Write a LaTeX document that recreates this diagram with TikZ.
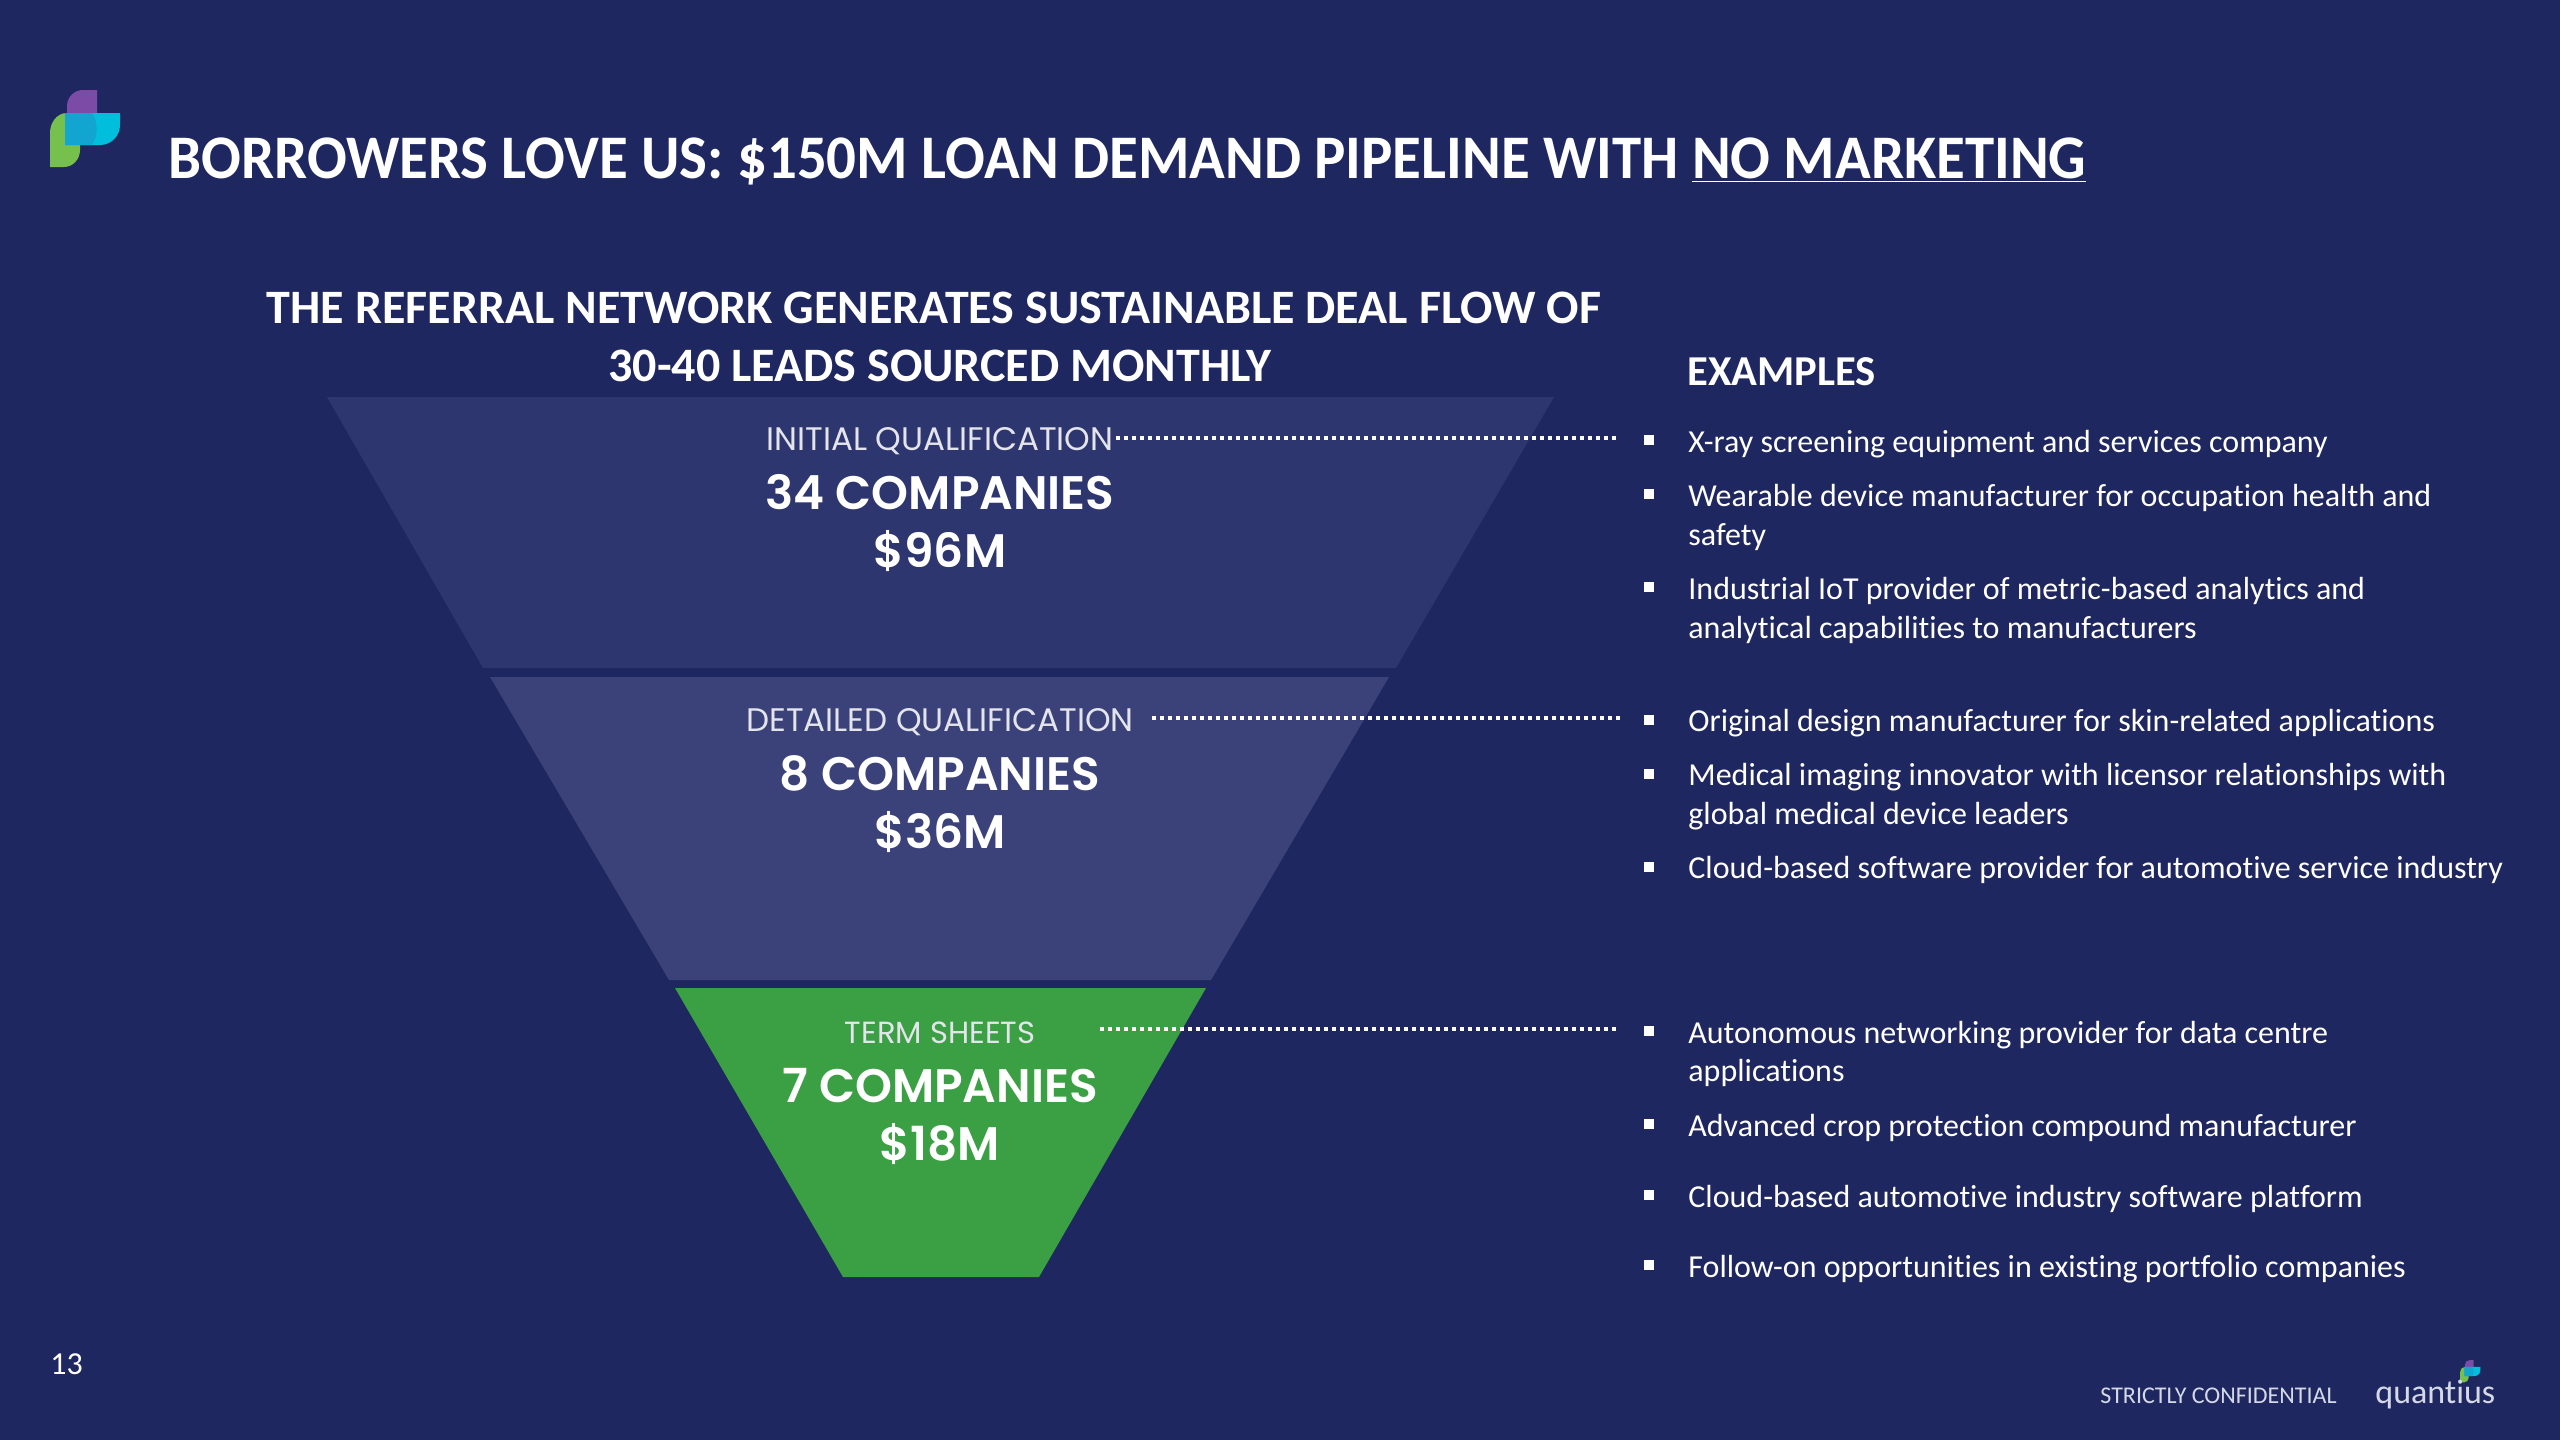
\documentclass[tikz,border=0pt]{standalone}
\usepackage{fontspec}
\setmainfont{Carlito}[Ligatures=NoCommon]
\newfontfamily\gothicfont{Poppins}
\newfontfamily\semifont{Poppins SemiBold}
\newfontfamily\titlefont{Carlito}[FakeStretch=0.95,Ligatures=NoCommon]
\usetikzlibrary{positioning}
\pgfdeclarelayer{bg}
\pgfsetlayers{bg,main}
\definecolor{slidebg}{HTML}{1F2760}
\definecolor{stepa}{HTML}{2E366F}
\definecolor{stepb}{HTML}{3A4279}
\definecolor{stepc}{HTML}{3B9F43}
\definecolor{footgrey}{HTML}{D5D8E6}
\definecolor{logog}{HTML}{76C04E}
\definecolor{logop}{HTML}{7B4BA5}
\definecolor{logoc}{HTML}{00BEDC}
\definecolor{logod}{HTML}{12A5CF}
\tikzset{
  txt/.style={inner sep=0,text=white,anchor=base west},
  ctr/.style={inner sep=0,text=white,anchor=base},
  item/.style={txt,font=\fontsize{16}{19}\selectfont},
  head/.style={ctr,font=\fontsize{24}{29}\selectfont\bfseries},
  lbl/.style={ctr,font=\gothicfont\fontsize{16.3}{19}\selectfont,text=white!88!slidebg},
  big/.style={ctr,font=\semifont\fontsize{23.5}{28}\selectfont},
  dots/.style={white,line width=2pt,dash pattern=on 2pt off 2pt},
  bul/.style={fill=white,inner sep=0,minimum size=5pt},
}
\newcommand{\logomark}[3]{%
  \begin{scope}[shift={(#1,#2)},scale=#3]
    \fill[logog] (50,167) -- (50,133) to[out=90,in=180] (67,113) -- (80,113) -- (80,150)
      to[out=-90,in=0] (64,167) -- cycle;
    \fill[logop] (67,118) -- (67,106) to[out=90,in=180] (83,90) -- (97,90) -- (97,118) -- cycle;
    \fill[logoc] (65,113) -- (120,113) -- (120,125) to[out=-90,in=0] (100,145) -- (65,145) -- cycle;
    \fill[logod] (65,113) -- (92,113) to[out=-60,in=60] (92,145) -- (65,145) -- cycle;
  \end{scope}}
\begin{document}
\begin{tikzpicture}[x=0.5pt,y=-0.5pt]
\useasboundingbox (0,0) rectangle (2560,1440);
\begin{pgfonlayer}{bg}
  \fill[slidebg] (0,0) rectangle (2560,1440);
  \fill[stepa] (327,397) -- (1554,397) -- (1396,668) -- (483,668) -- cycle;
  \fill[stepb] (490,677) -- (1389,677) -- (1211,980) -- (669,980) -- cycle;
  \fill[stepc] (675,988) -- (1206,988) -- (1039,1277) -- (843,1277) -- cycle;
\end{pgfonlayer}
\logomark{0}{0}{1}
\logomark{2445.5}{1334}{0.29}
\node[txt,font=\titlefont\fontsize{31}{37}\selectfont\bfseries] (title) at (168,178)
  {BORROWERS LOVE US: \$150M LOAN DEMAND PIPELINE WITH \underline{NO MARKETING}};
\node[head] (sub1) at (934,323) {THE REFERRAL NETWORK GENERATES SUSTAINABLE DEAL FLOW OF};
\node[head] (sub2) at (940,381) {30-40 LEADS SOURCED MONTHLY};
\node[txt,font=\fontsize{21.3}{25}\selectfont\bfseries] (examples) at (1687,385) {EXAMPLES};
% funnel
\node[lbl] (laba) at (940,450) {INITIAL QUALIFICATION};
\node[big] (coa) at (940,509) {34 COMPANIES};
\node[big] (vala) at (940,567) {\$96M};
\node[lbl] (labb) at (940,731) {DETAILED QUALIFICATION};
\node[big] (cob) at (940,790) {8 COMPANIES};
\node[big] (valb) at (940,848) {\$36M};
\node[lbl,font=\gothicfont\fontsize{15.3}{18}\selectfont] (labc) at (940,1043) {TERM SHEETS};
\node[big] (coc) at (940,1102) {7 COMPANIES};
\node[big] (valc) at (940,1160) {\$18M};
% list
\node[item] (i1) at (1688,452) {X-ray screening equipment and services company};
\node[item] (i2) at (1688,506) {Wearable device manufacturer for occupation health and};
\node[item] (i2b) at (1688,545) {safety};
\node[item] (i3) at (1688,599) {Industrial IoT provider of metric-based analytics and};
\node[item] (i3b) at (1688,638) {analytical capabilities to manufacturers};
\node[item] (i4) at (1688,731) {Original design manufacturer for skin-related applications};
\node[item] (i5) at (1688,785) {Medical imaging innovator with licensor relationships with};
\node[item] (i5b) at (1688,824) {global medical device leaders};
\node[item] (i6) at (1688,878) {Cloud-based software provider for automotive service industry};
\node[item] (i7) at (1688,1043) {Autonomous networking provider for data centre};
\node[item] (i7b) at (1688,1081) {applications};
\node[item] (i8) at (1688,1136) {Advanced crop protection compound manufacturer};
\node[item] (i9) at (1688,1207) {Cloud-based automotive industry software platform};
\node[item] (i10) at (1688,1277) {Follow-on opportunities in existing portfolio companies};
\foreach \y/\n in {440/1,494/2,587/3,720/4,774/5,867/6,1031/7,1124/8,1195/9,1265/10}
  \node[bul] (b\n) at (1649,\y) {};
% leader lines
\coordinate (enda) at (1618,438);
\coordinate (endb) at (1620,718);
\coordinate (endc) at (1619,1029);
\draw[dots,shorten <=1pt] (laba.east |- enda) -- (enda);
\draw[dots,shorten <=9pt] (labb.east |- endb) -- (endb);
\draw[dots,shorten <=32pt] (labc.east |- endc) -- (endc);
% footer
\node[txt,font=\fontsize{16}{19}\selectfont] (page) at (50,1374) {13};
\node[txt,font=\fontsize{12}{14}\selectfont,text=footgrey] (conf) at (2100,1403) {STRICTLY CONFIDENTIAL};
\node[txt,font=\fontsize{17}{20}\selectfont,text=footgrey] (brand) at (2375,1403) {quantius};
\end{tikzpicture}
\end{document}
